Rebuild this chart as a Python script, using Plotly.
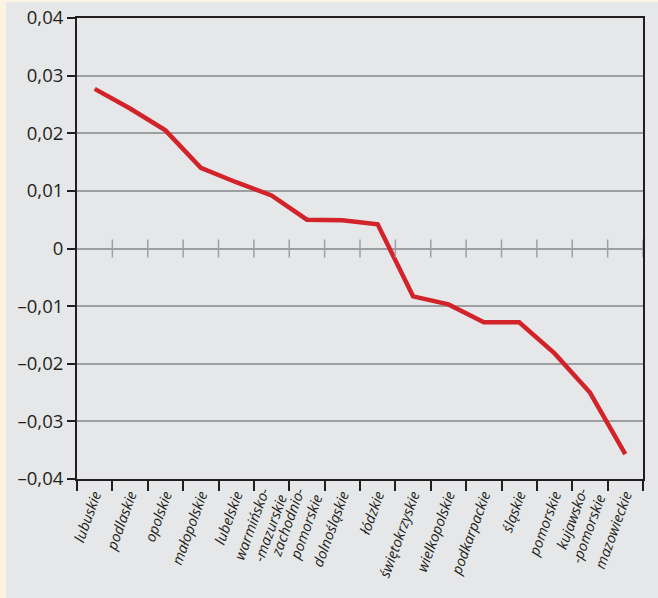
import plotly.graph_objects as go

categories = ["lubuskie", "podlaskie", "opolskie", "małopolskie", "lubelskie",
              "warmińsko-<br>-mazurskie", "zachodnio-<br>pomorskie", "dolnośląskie",
              "łódzkie", "świętokrzyskie", "wielkopolskie", "podkarpackie", "śląskie",
              "pomorskie", "kujawsko-<br>-pomorskie", "mazowieckie"]
values = [0.0277, 0.0243, 0.0205, 0.0140, 0.0115, 0.0092, 0.0050, 0.0049,
          0.0042, -0.0083, -0.0097, -0.0128, -0.0128, -0.0182, -0.0250, -0.0357]

ytick_vals = [-0.04, -0.03, -0.02, -0.01, 0, 0.01, 0.02, 0.03, 0.04]
ytick_text = ["–0,04", "–0,03", "–0,02", "–0,01", "0", "0,01", "0,02", "0,03", "0,04"]

W, H = 658, 598
ML, MR, MT, MB = 77, 15, 18, 119
PW, PH = W - ML - MR, H - MT - MB

fig = go.Figure()
fig.add_trace(go.Scatter(x=categories, y=values, mode="lines",
                         line=dict(color="#d2232a", width=4.5),
                         hoverinfo="skip", showlegend=False))

shapes = [dict(type="rect", xref="paper", yref="paper", layer="below",
               x0=(6 - ML) / PW, x1=(W - ML) / PW,
               y0=-MB / PH, y1=(PH + MT - 2) / PH,
               fillcolor="#e6e7e8", line=dict(width=0))]
for i in range(1, len(categories) + 1):
    shapes.append(dict(type="line", xref="x", yref="y", ysizemode="pixel", yanchor=0,
                       x0=i - 0.5, x1=i - 0.5, y0=-9, y1=9,
                       line=dict(color="#9d9fa2", width=1.5), layer="above"))

fig.update_layout(
    width=W, height=H,
    margin=dict(l=ML, r=MR, t=MT, b=MB, pad=0, autoexpand=False),
    paper_bgcolor="#fdf3e2", plot_bgcolor="#e6e7e8",
    font=dict(family="Open Sans", color="#231f20"),
    shapes=shapes,
    showlegend=False,
)
fig.update_xaxes(
    type="category", tickson="boundaries", ticks="outside", ticklen=10,
    tickcolor="#231f20", tickwidth=1.5, tickangle=-70, automargin=False,
    tickfont=dict(size=14.5, style="italic", color="#231f20"),
    showline=True, linecolor="#231f20", linewidth=2, mirror=True,
    showgrid=False, range=[-0.5, len(categories) - 0.5],
)
fig.update_yaxes(
    range=[-0.04, 0.04], tickvals=ytick_vals, ticktext=ytick_text, automargin=False,
    ticks="outside", ticklen=8, tickcolor="#231f20", tickwidth=1.5,
    tickfont=dict(size=18.5, color="#231f20"),
    showline=True, linecolor="#231f20", linewidth=2, mirror=True,
    showgrid=True, gridcolor="#9d9fa2", gridwidth=1.5,
    zeroline=True, zerolinecolor="#9d9fa2", zerolinewidth=1.5,
)

fig.write_html("out.html", config={"displayModeBar": False},
               post_script="document.body.style.margin='0';")
